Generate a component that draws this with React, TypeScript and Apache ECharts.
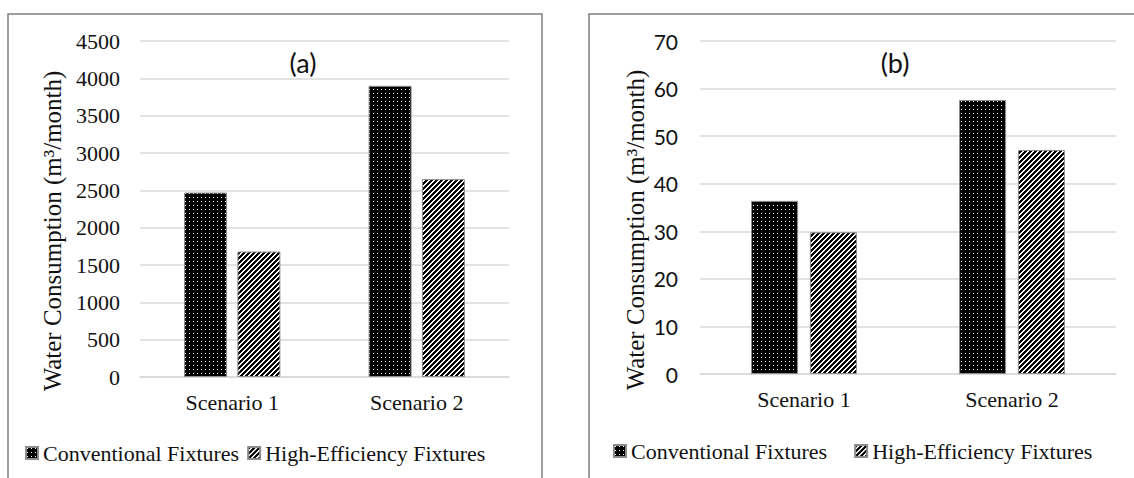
import React, { useEffect, useRef } from 'react';
import * as echarts from 'echarts';

const categories = ['Scenario 1', 'Scenario 2'];
const seriesNames = ['Conventional Fixtures', 'High-Efficiency Fixtures'];
const conventionalA = [2470, 3900];
const efficientA = [1680, 2650];
const conventionalB = [36.4, 57.6];
const efficientB = [29.8, 47.1];
const yAxisTitle = 'Water Consumption (m³/month)';
const panelTitles = ['(a)', '(b)'];

const serif = 'Liberation Serif';
const sans = 'Lato';
const textColor = '#111111';
const gridColor = '#d9d9d9';

function dotPattern(): HTMLCanvasElement {
  const c = document.createElement('canvas');
  c.width = 4;
  c.height = 4;
  const ctx = c.getContext('2d')!;
  ctx.fillStyle = '#000';
  ctx.fillRect(0, 0, 4, 4);
  ctx.fillStyle = '#fff';
  ctx.fillRect(1, 1, 1, 1);
  return c;
}

function stripePattern(): HTMLCanvasElement {
  const n = 5;
  const c = document.createElement('canvas');
  c.width = n;
  c.height = n;
  const ctx = c.getContext('2d')!;
  const img = ctx.createImageData(n, n);
  for (let y = 0; y < n; y++) {
    for (let x = 0; x < n; x++) {
      const k = (y * n + x) * 4;
      const v = (x + y) % n < 3 ? 0 : 255;
      img.data[k] = v;
      img.data[k + 1] = v;
      img.data[k + 2] = v;
      img.data[k + 3] = 255;
    }
  }
  ctx.putImageData(img, 0, 0);
  return c;
}

export default function App() {
  const ref = useRef<HTMLDivElement>(null);

  useEffect(() => {
    if (!ref.current) return;
    const chart = echarts.init(ref.current, undefined, { renderer: 'svg' });
    const dots = { image: dotPattern(), repeat: 'repeat', imageWidth: 4, imageHeight: 4 };
    const stripes = { image: stripePattern(), repeat: 'repeat', imageWidth: 5, imageHeight: 5 };

    const barStyle = (fill: any) => ({ color: fill, borderColor: '#8c8c8c', borderWidth: 1 });

    const xAxisBase = {
      type: 'category',
      data: categories,
      axisLine: { lineStyle: { color: gridColor, width: 1.5 } },
      axisTick: { show: false },
      axisLabel: { fontFamily: serif, fontSize: 22, color: textColor, margin: 14 },
    };

    const legendBase = {
      data: seriesNames,
      icon: 'rect',
      itemWidth: 12,
      itemHeight: 12,
      textStyle: { fontFamily: serif, fontSize: 22, color: textColor },
      selectedMode: false,
    };

    chart.setOption({
      animation: false,
      backgroundColor: '#fff',
      grid: [
        { left: 140, top: 41, width: 369, height: 336 },
        { left: 700, top: 41, width: 416, height: 333 },
      ],
      xAxis: [
        { ...xAxisBase, gridIndex: 0 },
        { ...xAxisBase, gridIndex: 1 },
      ],
      yAxis: [
        {
          gridIndex: 0,
          type: 'value',
          min: 0,
          max: 4500,
          interval: 500,
          axisLine: { show: false },
          axisTick: { show: false },
          splitLine: { lineStyle: { color: gridColor, width: 1.5 } },
          axisLabel: {
            fontFamily: serif, fontSize: 22, color: textColor, margin: 20,
            formatter: (v: number) => String(v),
          },
        },
        {
          gridIndex: 1,
          type: 'value',
          min: 0,
          max: 70,
          interval: 10,
          axisLine: { show: false },
          axisTick: { show: false },
          splitLine: { lineStyle: { color: gridColor, width: 1.5 } },
          axisLabel: { fontFamily: sans, fontSize: 21, color: textColor, margin: 22 },
        },
      ],
      legend: [
        { ...legendBase, left: 20, top: 437, itemGap: 8 },
        { ...legendBase, left: 608, top: 435, itemGap: 27 },
      ],
      series: [
        {
          name: seriesNames[0], type: 'bar', xAxisIndex: 0, yAxisIndex: 0,
          data: conventionalA, barWidth: '23.3%', barGap: '24%', itemStyle: barStyle(dots),
        },
        {
          name: seriesNames[1], type: 'bar', xAxisIndex: 0, yAxisIndex: 0,
          data: efficientA, barWidth: '23.3%', barGap: '24%', itemStyle: barStyle(stripes),
        },
        {
          name: seriesNames[0], type: 'bar', xAxisIndex: 1, yAxisIndex: 1,
          data: conventionalB, barWidth: '22.6%', barGap: '25%', itemStyle: barStyle(dots),
        },
        {
          name: seriesNames[1], type: 'bar', xAxisIndex: 1, yAxisIndex: 1,
          data: efficientB, barWidth: '22.6%', barGap: '25%', itemStyle: barStyle(stripes),
        },
      ],
      graphic: [
        {
          type: 'rect', silent: true,
          shape: { x: 8, y: 14, width: 534, height: 480 },
          style: { fill: 'none', stroke: '#7f7f7f', lineWidth: 1.5 },
        },
        {
          type: 'rect', silent: true,
          shape: { x: 589, y: 14, width: 560, height: 480 },
          style: { fill: 'none', stroke: '#7f7f7f', lineWidth: 1.5 },
        },
        {
          type: 'text', x: 52, y: 231, rotation: Math.PI / 2,
          style: {
            text: yAxisTitle, fill: textColor, fontFamily: serif, fontSize: 25,
            textAlign: 'center', textVerticalAlign: 'middle',
          },
        },
        {
          type: 'text', x: 635, y: 230, rotation: Math.PI / 2,
          style: {
            text: yAxisTitle, fill: textColor, fontFamily: serif, fontSize: 25,
            textAlign: 'center', textVerticalAlign: 'middle',
          },
        },
        {
          type: 'text', x: 303, y: 62,
          style: {
            text: panelTitles[0], fill: textColor, fontFamily: sans, fontSize: 27,
            textAlign: 'center', textVerticalAlign: 'middle',
          },
        },
        {
          type: 'text', x: 895, y: 62,
          style: {
            text: panelTitles[1], fill: textColor, fontFamily: sans, fontSize: 27,
            textAlign: 'center', textVerticalAlign: 'middle',
          },
        },
      ],
    });

    return () => chart.dispose();
  }, []);

  return (
    <div
      ref={ref}
      style={{ position: 'absolute', left: 0, top: 0, width: 1134, height: 478 }}
    />
  );
}
